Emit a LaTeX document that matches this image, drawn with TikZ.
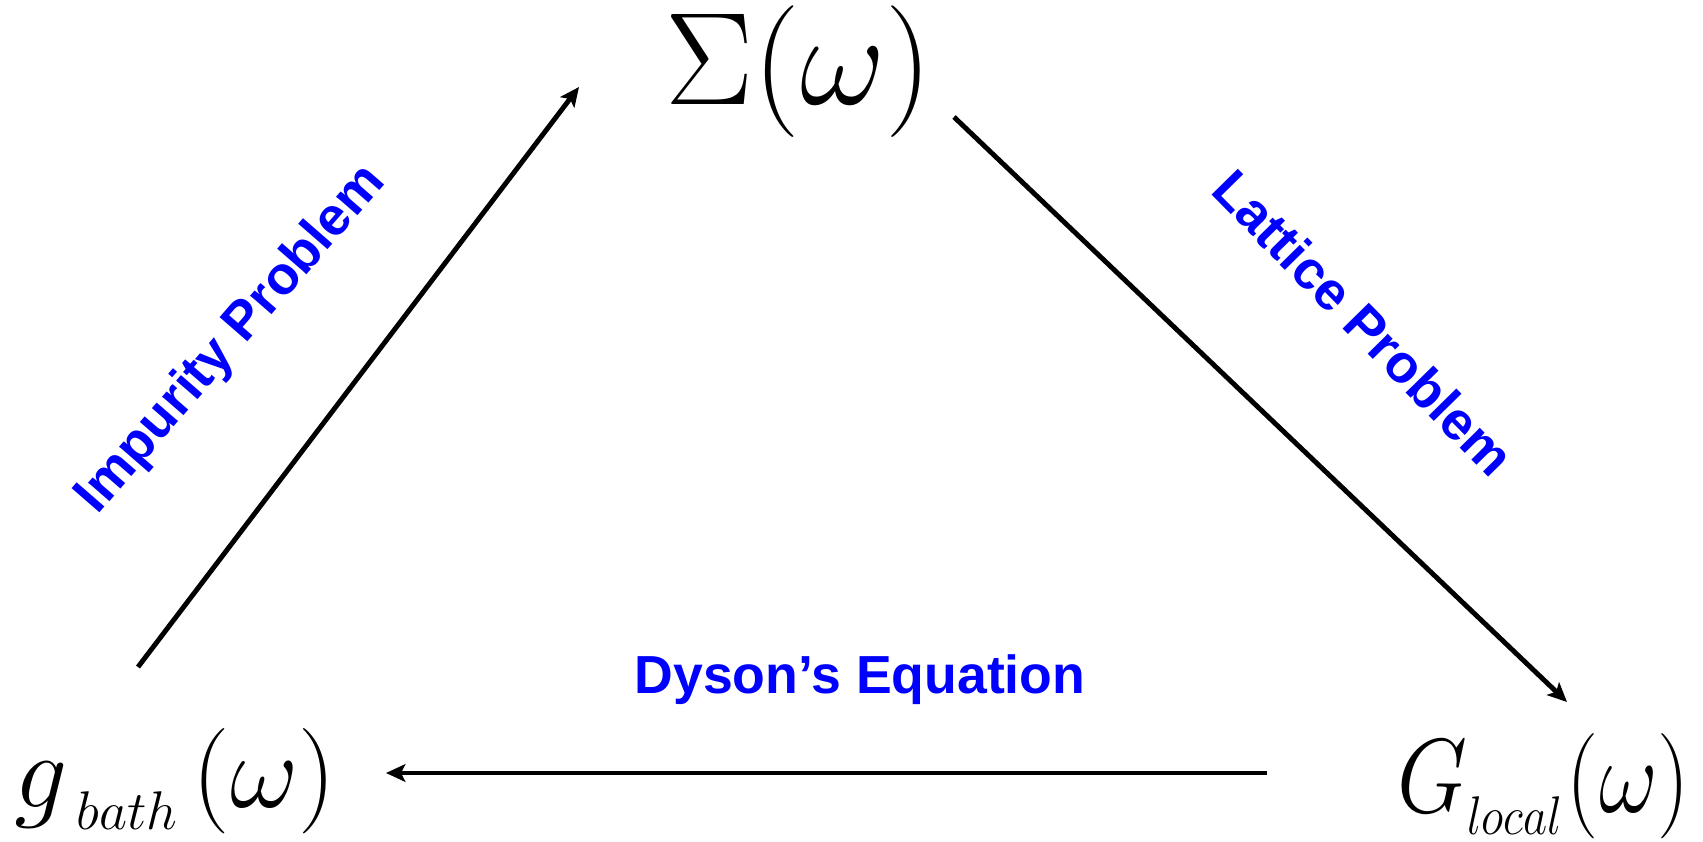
\RequirePackage{fix-cm}
\documentclass[tikz,border=0pt]{standalone}
\usepackage{fontspec}
\usepackage{xcolor}
\usepackage{tikz}
\usetikzlibrary{arrows.meta, positioning, calc}
\newfontfamily\stepfont{Liberation Sans}
\definecolor{myblue}{RGB}{0,0,255}
\definecolor{mydark}{RGB}{0,0,0}
\newcommand{\lowtext}[1]{\raisebox{-13pt}{\fontsize{31}{36}\selectfont$#1$}}
\tikzset{
  funcnode/.style={inner sep=0pt, font=\fontsize{60}{70}\selectfont},
  sigmanode/.style={inner sep=0pt, font=\fontsize{75}{85}\selectfont},
  steplabel/.style={inner sep=0pt, text=myblue,
    font=\stepfont\bfseries\fontsize{30.5}{32}\selectfont},
  arrow/.style={-{Stealth[length=11pt, width=10pt, inset=2.5pt]},
    line width=2.8pt, color=mydark}
}
\begin{document}
\begin{tikzpicture}
  \useasboundingbox (0, 0) rectangle (34.06, 16.82);

  % Self energy
  \node[sigmanode, anchor=base] (sigma) at (15.98, 14.72) {$\Sigma(\omega)$};

  % Bath Green function
  \node[funcnode, anchor=base west] (gbath) at (0.28, 0.68) {$g$\hspace{5pt}\lowtext{bath}\hspace{9pt}$(\omega)$};

  % Local Green function
  \node[funcnode, anchor=base east] (glocal) at (33.8, 0.58) {\scalebox{0.86}[1]{$G$\lowtext{local}\hspace{3pt}$(\omega)$}};

  % Arrow ends
  \coordinate (imp-s) at (2.76, 3.48);
  \coordinate (imp-e) at (11.58, 15.08);
  \coordinate (lat-s) at (19.08, 14.48);
  \coordinate (lat-e) at (31.34, 2.78);
  \coordinate (dys-s) at (25.34, 1.36);
  \coordinate (dys-e) at (7.72, 1.36);

  % Cycle
  \draw[arrow] (imp-s) -- (imp-e);
  \draw[arrow] (lat-s) -- (lat-e);
  \draw[arrow] (dys-s) -- (dys-e);

  % Labels
  \node[steplabel, anchor=base, rotate=49] (implbl) at (4.84, 9.84) {Impurity Problem};
  \node[steplabel, anchor=base, rotate=-45.5] (latlbl) at (27.0, 10.1) {Lattice Problem};
  \node[steplabel, anchor=base] (dyslbl) at (17.2, 2.96) {Dyson’s Equation};
\end{tikzpicture}
\end{document}
